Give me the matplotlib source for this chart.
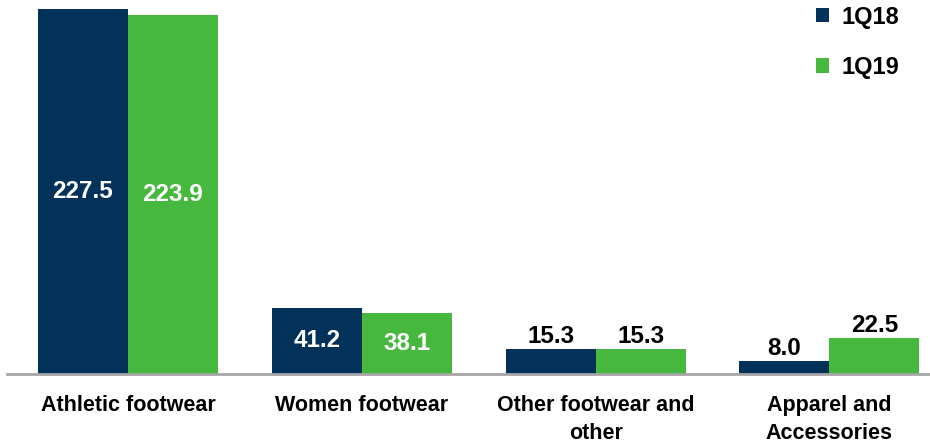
import matplotlib.pyplot as plt
import numpy as np

categories = ["Athletic footwear", "Women footwear", "Other footwear and\nother", "Apparel and\nAccessories"]
q18 = [227.5, 41.2, 15.3, 8.0]
q19 = [223.9, 38.1, 15.3, 22.5]
series_names = ["1Q18", "1Q19"]

NAVY = "#02325A"
GREEN = "#47B83E"

plt.rcParams['font.family'] = ['Liberation Sans', 'DejaVu Sans']

fig = plt.figure(figsize=(9.3, 4.43), dpi=100)
ax = fig.add_axes([7/930, 69/443, 1 - 7/930, 374/443])

x = np.arange(len(categories))
w = 0.385
b1 = ax.bar(x - w/2, q18, w, color=NAVY, label=series_names[0])
b2 = ax.bar(x + w/2, q19, w, color=GREEN, label=series_names[1])

ax.set_xlim(-0.517, 3.43)
ax.set_ylim(0, 233.2)

for bars in (b1, b2):
    for r in bars:
        h = r.get_height()
        cx = r.get_x() + r.get_width()/2
        if h > 30:
            ax.text(cx, h/2, f"{h:.1f}", ha='center', va='center', color='white',
                    fontsize=17.5, fontweight='bold')
        else:
            ax.text(cx, h + 0.8, f"{h:.1f}", ha='center', va='bottom', color='black',
                    fontsize=17.5, fontweight='bold')

for s in ['top', 'right', 'left']:
    ax.spines[s].set_visible(False)
ax.spines['bottom'].set_color('#A6A6A6')
ax.spines['bottom'].set_linewidth(2)
ax.set_yticks([])
ax.set_xticks(x)
ax.set_xticklabels(categories, fontsize=15.5, fontweight='bold', linespacing=1.45)
ax.tick_params(axis='x', length=0, pad=15)

leg = ax.legend(loc='upper right', bbox_to_anchor=(0.967, 0.985), frameon=False,
                prop={'size': 17, 'weight': 'bold'}, handlelength=0.55, handleheight=0.55,
                labelspacing=1.15, handletextpad=0.55, borderpad=0, borderaxespad=0)

fig.savefig("out.png", dpi=100)
